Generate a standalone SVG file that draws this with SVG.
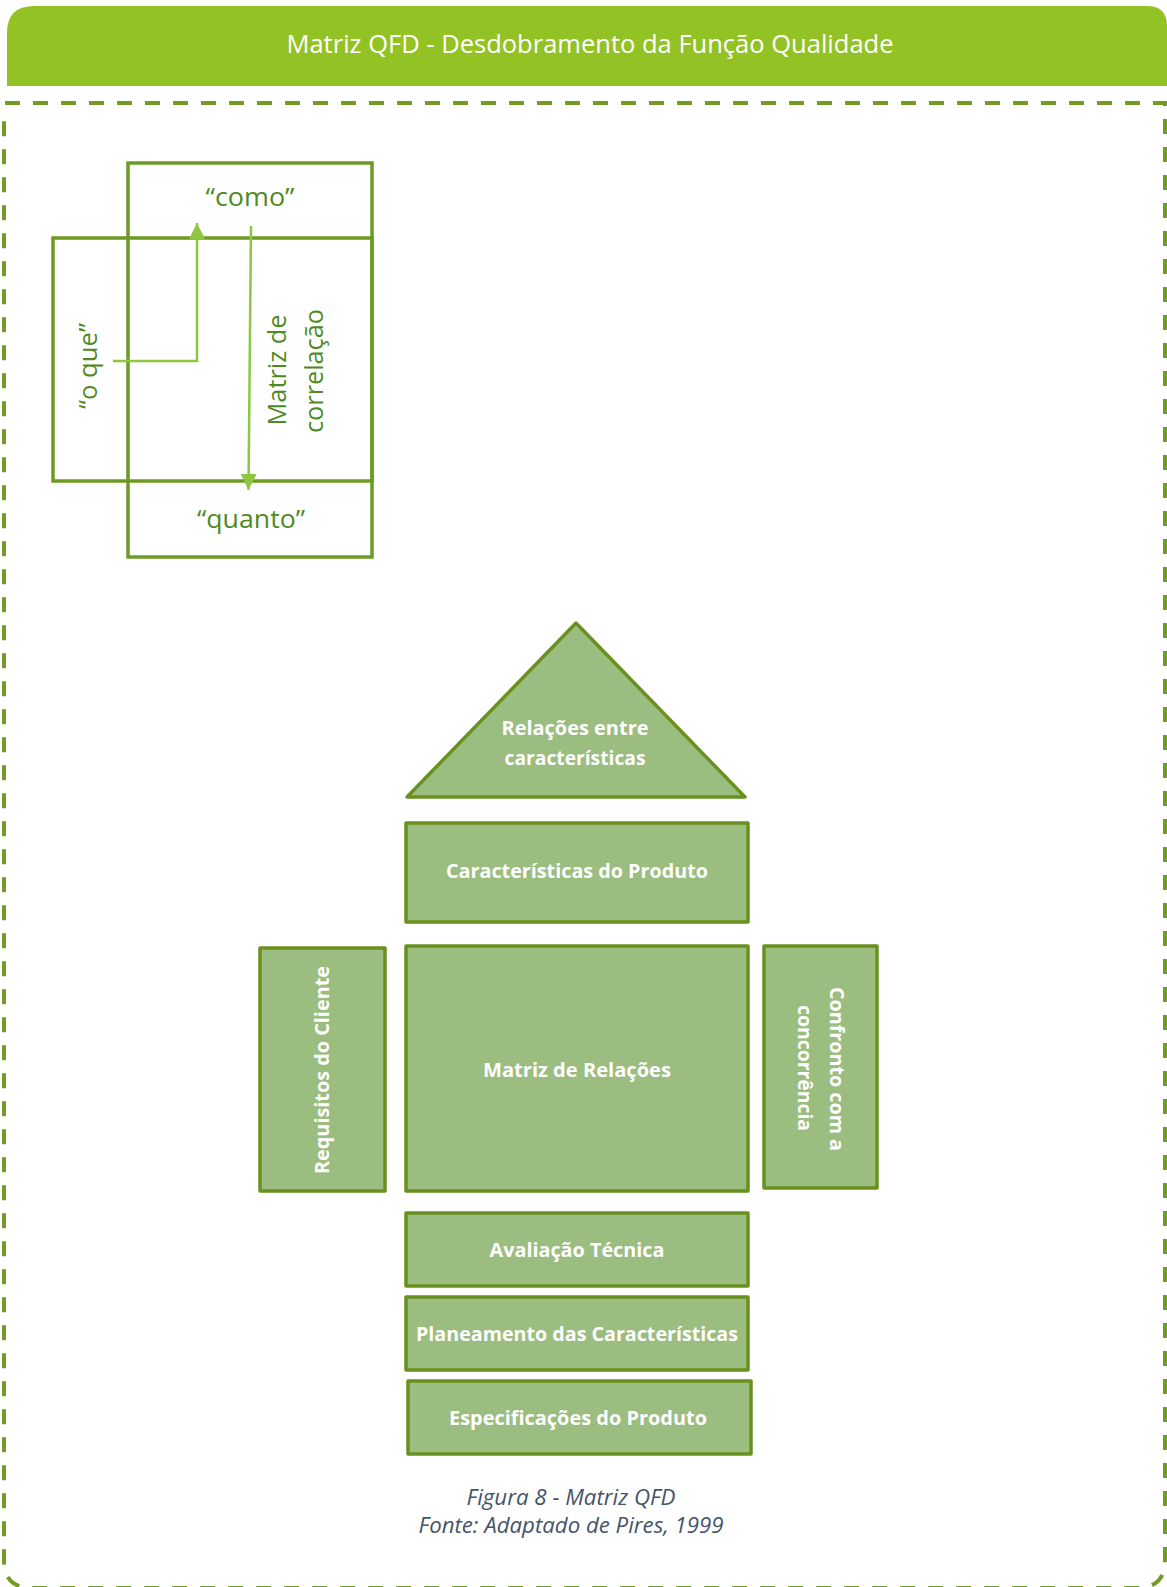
<svg xmlns="http://www.w3.org/2000/svg" width="1167" height="1587" viewBox="0 0 1167 1587">
<style>
.title{font-family:"Open Sans","Liberation Sans",sans-serif;font-size:25px;fill:#ffffff;text-anchor:middle}
.gt{font-family:"Open Sans","Liberation Sans",sans-serif;font-size:26px;fill:#4f8a1f;text-anchor:middle}
.lbl{font-family:"Open Sans","Liberation Sans",sans-serif;font-size:20px;font-weight:bold;fill:#ffffff;text-anchor:middle}
.cap{font-family:"Open Sans","Liberation Sans",sans-serif;font-size:21px;font-style:italic;fill:#44546a;text-anchor:middle}
.box{fill:#9bbd7f;stroke:#6a9120;stroke-width:3.5;stroke-linejoin:round}
.frame{fill:none;stroke:#6c9a24;stroke-width:3.5}
.arr{fill:none;stroke:#8dc63f;stroke-width:2.5}
</style>
<defs>
<marker id="ah" viewBox="0 0 16 16" refX="16" refY="8" markerWidth="16" markerHeight="16" markerUnits="userSpaceOnUse" orient="auto">
<path d="M0,0 L16,8 L0,16 z" fill="#8dc63f"/>
</marker>
</defs>
<rect width="1167" height="1587" fill="#ffffff"/>
<g id="header">
<path d="M7,86 V33 Q7,6 34,6 H1147 Q1167,6 1167,26 V86 Z" fill="#93c225"/>
<text class="title" x="590" y="53" textLength="607" lengthAdjust="spacingAndGlyphs">Matriz QFD - Desdobramento da Função Qualidade</text>
</g>
<g id="border">
<path d="M5,103 H1165 V1560 Q1165,1588 1137,1588 H32 Q4,1588 4,1560 V115" fill="none" stroke="#729b22" stroke-width="4" stroke-dasharray="15 13"/>
</g>
<g id="qfd-schema">
<g id="rect-o-que"><rect class="frame" x="53" y="238" width="319" height="243"/></g>
<g id="rect-como-quanto"><rect class="frame" x="128" y="163" width="244" height="394"/></g>
<g id="lbl-como"><text class="gt" x="250" y="206" textLength="89" lengthAdjust="spacingAndGlyphs">“como”</text></g>
<g id="lbl-quanto"><text class="gt" x="251" y="528" textLength="108" lengthAdjust="spacingAndGlyphs">“quanto”</text></g>
<g id="lbl-o-que"><text class="gt" transform="translate(97,366) rotate(-90)" x="0" y="0" textLength="86" lengthAdjust="spacingAndGlyphs">“o que”</text></g>
<g id="lbl-matriz-correlacao">
<text class="gt" transform="translate(286,370) rotate(-90)" x="0" y="0" textLength="111" lengthAdjust="spacingAndGlyphs">Matriz de</text>
<text class="gt" transform="translate(323,371) rotate(-90)" x="0" y="0" textLength="124" lengthAdjust="spacingAndGlyphs">correlação</text>
</g>
</g>
<g id="connectors">
<polyline class="arr" points="113,361 197,361 197,223" marker-end="url(#ah)"/>
<line class="arr" x1="251" y1="226" x2="248.5" y2="490" marker-end="url(#ah)"/>
</g>
<g id="house">
<g id="n-relacoes-entre">
<polygon class="box" points="576,623 745,797 407,797"/>
<text class="lbl" x="575" y="735" textLength="147" lengthAdjust="spacingAndGlyphs">Relações entre</text>
<text class="lbl" x="575" y="765" textLength="141" lengthAdjust="spacingAndGlyphs">características</text>
</g>
<g id="n-caracteristicas-produto">
<rect class="box" x="406" y="823" width="342" height="99"/>
<text class="lbl" x="577" y="878" textLength="262" lengthAdjust="spacingAndGlyphs">Características do Produto</text>
</g>
<g id="n-requisitos-cliente">
<rect class="box" x="260" y="948" width="125" height="243"/>
<text class="lbl" transform="translate(329,1070) rotate(-90)" x="0" y="0" textLength="208" lengthAdjust="spacingAndGlyphs">Requisitos do Cliente</text>
</g>
<g id="n-matriz-relacoes">
<rect class="box" x="406" y="946" width="342" height="245"/>
<text class="lbl" x="577" y="1077" textLength="188" lengthAdjust="spacingAndGlyphs">Matriz de Relações</text>
</g>
<g id="n-confronto">
<rect class="box" x="764" y="946" width="113" height="242"/>
<text class="lbl" transform="translate(830,1069) rotate(90)" x="0" y="0" textLength="164" lengthAdjust="spacingAndGlyphs">Confronto com a</text>
<text class="lbl" transform="translate(798,1068) rotate(90)" x="0" y="0" textLength="126" lengthAdjust="spacingAndGlyphs">concorrência</text>
</g>
<g id="n-avaliacao-tecnica">
<rect class="box" x="406" y="1213" width="342" height="73"/>
<text class="lbl" x="577" y="1257" textLength="175" lengthAdjust="spacingAndGlyphs">Avaliação Técnica</text>
</g>
<g id="n-planeamento">
<rect class="box" x="406" y="1297" width="342" height="73"/>
<text class="lbl" x="577" y="1341" textLength="322" lengthAdjust="spacingAndGlyphs">Planeamento das Características</text>
</g>
<g id="n-especificacoes">
<rect class="box" x="408" y="1381" width="343" height="73"/>
<text class="lbl" x="578" y="1425" textLength="258" lengthAdjust="spacingAndGlyphs">Especificações do Produto</text>
</g>
</g>
<g id="caption">
<text class="cap" x="571" y="1505" textLength="209" lengthAdjust="spacingAndGlyphs">Figura 8 - Matriz QFD</text>
<text class="cap" x="571" y="1533" textLength="305" lengthAdjust="spacingAndGlyphs">Fonte: Adaptado de Pires, 1999</text>
</g>
</svg>
